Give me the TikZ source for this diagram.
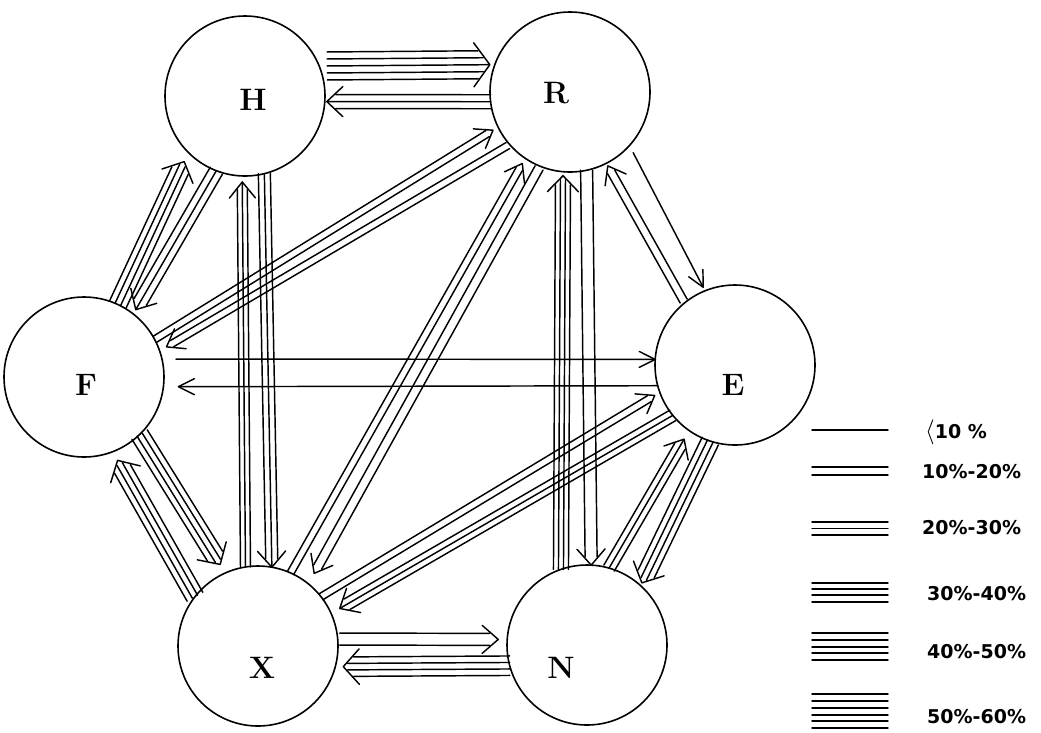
\documentclass[tikz,border=0pt]{standalone}
\usepackage{fontspec}
\newfontfamily\legfont{DejaVu Sans}
\usetikzlibrary{calc}

\tikzset{
  circ/.style={circle, draw, line width=1.6pt, minimum size=160pt, inner sep=0pt, outer sep=0pt},
  letter/.style={font=\fontsize{31}{31}\selectfont\bfseries, inner sep=0pt},
  bl/.style={line width=1.45pt, line cap=round, line join=round},
  legtext/.style={font=\legfont\bfseries\fontsize{19}{19}\selectfont, anchor=west, inner sep=0pt}
}

% bundle of parallel lines with an open chevron head
% #1 from anchor, #2 to anchor, #3 number of lines, #4 spacing, #5 gap at start, #6 gap at tip
\newcommand{\bundle}[6]{%
  \coordinate (bs) at ($(#1)!#5pt!(#2)$);
  \coordinate (bt) at ($(#2)!#6pt!(#1)$);
  \pgfmathsetmacro{\bhw}{(#3-1)/2*#4}
  \pgfmathsetmacro{\bspread}{\bhw+8}
  \foreach \bi in {1,...,#3}{%
    \pgfmathsetmacro{\boff}{(\bi-1)*#4-\bhw}
    \pgfmathsetmacro{\bback}{16*abs(\boff)/\bspread+1.5}
    \draw[bl] ($(bs)!\boff pt!90:(bt)$) -- ($(bt)!\bback pt!(bs)!\boff pt!-90:(bs)$);
  }
  \draw[bl] ($(bt)!16pt!(bs)!\bspread pt!90:(bs)$) -- (bt) -- ($(bt)!16pt!(bs)!\bspread pt!-90:(bs)$);
}

\begin{document}
\begin{tikzpicture}[x=1pt,y=-1pt]
\fill[white] (0,0) rectangle (1041,732);
\useasboundingbox (0,0) rectangle (1041,732);

% circles
\node[circ] (H) at (245,96) {};
\node[circ] (R) at (570,92) {};
\node[circ] (F) at (84,377) {};
\node[circ] (E) at (735,365) {};
\node[circ] (X) at (258,646) {};
\node[circ] (N) at (587,645) {};

% letters
\node[letter] (lH) at (253,100) {H};
\node[letter] (lR) at (556,93) {R};
\node[letter] (lF) at (86,385) {F};
\node[letter] (lE) at (733,385) {E};
\node[letter] (lX) at (262,668) {X};
\node[letter] (lN) at (561,668) {N};

% flows
\bundle{H.22}{R.160}{5}{7}{8}{5}
\bundle{R.187}{H.-4}{3}{7}{0}{2}
\bundle{F.65}{H.225}{4}{6}{0}{10}
\bundle{H.249}{F.52}{3}{7}{0}{5}
\bundle{X.99}{H.268}{3}{5}{0}{6}
\bundle{H.284}{X.80}{3}{6}{0}{0}
\bundle{F.28}{R.206}{2}{7}{0}{6}
\bundle{R.221}{F.19}{2}{7}{2}{8}
\bundle{X.66}{R.236}{2}{7}{0}{6}
\bundle{R.248}{X.51}{2}{9}{2}{12}
\bundle{X.38}{E.200}{2}{7}{0}{6}
\bundle{E.219}{X.24}{3}{6}{0}{10}
\bundle{X.5}{N.176}{2}{12}{2}{9}
\bundle{N.195}{X.-15}{4}{6.5}{0}{8}
\bundle{N.109}{R.265}{4}{5}{0}{4}
\bundle{R.282}{N.87}{2}{12}{0}{0}
\bundle{R.-42}{E.112}{1}{0}{8}{4}
\bundle{E.129}{R.-63}{2}{8}{2}{3}
\bundle{N.74}{E.235}{3}{6}{0}{10}
\bundle{E.252}{N.48}{4}{6}{0}{3}
\bundle{X.142}{F.-69}{4}{6}{0}{10}
\bundle{F.-46}{X.114}{4}{6}{0}{10}
\bundle{F.13}{E.176}{1}{0}{14}{0}
\bundle{E.195}{F.-7}{1}{0}{0}{15}

% legend
\draw[bl] (812,430) -- (888,430);
\foreach \yy in {467,475} \draw[bl] (812,\yy) -- (888,\yy);
\foreach \yy in {522,528.5,535} \draw[bl] (812,\yy) -- (888,\yy);
\foreach \yy in {583,589,595,602} \draw[bl] (812,\yy) -- (888,\yy);
\foreach \yy in {633,640,647,653,660} \draw[bl] (812,\yy) -- (888,\yy);
\foreach \yy in {694,701,708,715,721,728} \draw[bl] (812,\yy) -- (888,\yy);

\node[legtext] (t1) at (925,432) {{\fontsize{26}{26}\selectfont$\langle$}10 \%};
\node[legtext] (t2) at (922,472) {10\%-20\%};
\node[legtext] (t3) at (922,528) {20\%-30\%};
\node[legtext] (t4) at (927,594) {30\%-40\%};
\node[legtext] (t5) at (927,652) {40\%-50\%};
\node[legtext] (t6) at (927,717) {50\%-60\%};
\end{tikzpicture}
\end{document}
